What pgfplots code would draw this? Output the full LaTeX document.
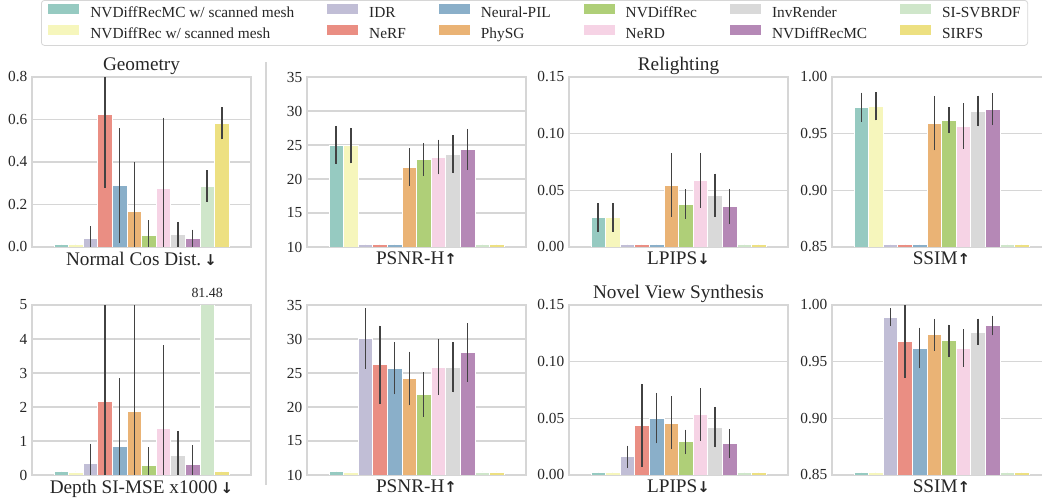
\documentclass[border=0pt]{standalone}
\usepackage{pgfplots}
\pgfplotsset{compat=1.18}
\usepackage{pgfplotstable}
\usepackage{fontspec}
\setmainfont{Liberation Serif}
\newfontfamily\arrowfont{DejaVu Sans}

% seaborn Set3, desaturated to 0.75
\definecolor{c0}{RGB}{150,202,193}
\definecolor{c1}{RGB}{246,246,188}
\definecolor{c2}{RGB}{193,190,214}
\definecolor{c3}{RGB}{234,142,131}
\definecolor{c4}{RGB}{138,175,201}
\definecolor{c5}{RGB}{234,179,117}
\definecolor{c6}{RGB}{175,207,120}
\definecolor{c7}{RGB}{246,211,229}
\definecolor{c8}{RGB}{217,217,217}
\definecolor{c9}{RGB}{181,136,182}
\definecolor{c10}{RGB}{207,230,202}
\definecolor{c11}{RGB}{237,224,129}
\definecolor{gridc}{RGB}{214,214,214}
\definecolor{tickc}{RGB}{38,38,38}
\definecolor{errc}{RGB}{66,66,66}

\newcommand\dn{{\arrowfont\bfseries\fontsize{15}{15}\selectfont ↓}}
\newcommand\up{{\arrowfont\bfseries\fontsize{15}{15}\selectfont ↑}}

% one row per method, columns: normal, depth, relight psnr/lpips/ssim, nvs psnr/lpips/ssim (value + error)
\pgfplotstableread{
x        nc     nce    dm     dme   rp     rpe   rl     rle     rs     rse     np     npe   nl     nle     ns     nse
-0.3667  0.013  0      0.10   0     25.00  2.80  0.026  0.0125  0.9733 0.0130  10.47  0     0.0023 0       0.8526 0
-0.3000  0.012  0      0.09   0     24.90  2.60  0.026  0.0125  0.9742 0.0124  10.45  0     0.0023 0       0.8526 0
-0.2333  0.042  0.055  0.33   0.59  10.44  0     0.0023 0       0.8523 0       30.08  4.43  0.0161 0.0098  0.9892 0.0079
-0.1667  0.623  0.345  2.16   3.20  10.44  0     0.0023 0       0.8523 0       26.23  5.75  0.0437 0.0366  0.9678 0.0320
-0.1000  0.290  0.270  0.85   2.00  10.44  0     0.0023 0       0.8523 0       25.69  3.83  0.0501 0.0223  0.9620 0.0180
-0.0333  0.168  0.232  1.87   3.40  21.77  2.76  0.0545 0.0280  0.9593 0.0240  24.18  3.95  0.0460 0.0234  0.9737 0.0140
 0.0333  0.055  0.070  0.29   0.53  22.84  2.42  0.0380 0.0130  0.9620 0.0115  21.84  3.25  0.0293 0.0108  0.9684 0.0143
 0.1000  0.278  0.331  1.38   2.44  23.23  2.55  0.0586 0.0240  0.9567 0.0200  25.84  4.10  0.0533 0.0233  0.9620 0.0164
 0.1667  0.058  0.060  0.575  0.72  23.67  2.80  0.0457 0.0190  0.9700 0.0135  25.84  3.70  0.0422 0.0179  0.9763 0.0116
 0.2333  0.039  0.043  0.30   0.58  24.36  3.00  0.0357 0.0155  0.9716 0.0140  28.03  4.30  0.0278 0.0126  0.9819 0.0087
 0.3000  0.286  0.075  81.48  0     10.44  0     0.0023 0       0.8523 0       10.45  0     0.0023 0       0.8526 0
 0.3667  0.582  0.075  0.10   0     10.44  0     0.0023 0       0.8523 0       10.45  0     0.0023 0       0.8526 0
}\data

\newcommand\bars[2]{%
  \pgfplotsinvokeforeach{0,...,11}{%
    \addplot[fill=c##1, draw=white, line width=0.7bp, forget plot,
      x filter/.code={\ifnum\coordindex=##1\relax\else\def\pgfmathresult{}\fi},
      error bars/.cd, y dir=both, y explicit, error mark=none,
      error bar style={line width=1.4bp, errc}]
      table[x=x, y=#1, y error=#2] {\data};
  }%
}

\pgfplotsset{
  every axis title shift=0pt,
  panel/.style={
    scale only axis, width=219bp, height=170bp, anchor=south west,
    xmin=-0.5, xmax=0.5, xtick=\empty, enlargelimits=false,
    clip mode=individual,
    ymajorgrids, grid style={line width=1.1bp, gridc},
    axis line style={line width=1.1bp, gridc},
    major tick length=0pt,
    tick label style={font=\fontsize{15.4}{16}\selectfont, text=tickc},
    yticklabel style={inner sep=0pt, xshift=-4.5bp},
    /pgf/number format/assume math mode=true,
    ybar, bar width=0.0667, bar shift=0pt,
    xlabel style={at={(axis description cs:0.5,0)}, anchor=north, yshift=-4.5bp,
      inner sep=0pt, font=\fontsize{19.3}{20}\selectfont, text=tickc},
    title style={at={(axis description cs:0.5,1)}, anchor=south, yshift=2bp,
      inner sep=0pt, font=\fontsize{19.3}{20}\selectfont, text=tickc},
  },
  dec1/.style={yticklabel style={/pgf/number format/.cd, fixed, fixed zerofill, precision=1}},
  dec2/.style={yticklabel style={/pgf/number format/.cd, fixed, fixed zerofill, precision=2}},
  legimg/.style={legend image code/.code={\fill[##1, draw=none, sharp corners] (0bp,-0.5bp) rectangle (31bp,9.5bp);}},
}

\begin{document}
\begin{tikzpicture}

% ---- Geometry
\begin{axis}[panel, dec1, at={(32bp,252bp)}, ymin=0, ymax=0.8, ytick={0,0.2,0.4,0.6,0.8},
  title={Geometry}, xlabel={Normal Cos Dist.\,\dn},
  legend columns=6, legend cell align=left,
  legend style={at={(axis description cs:0.0411,1.4529)}, anchor=north west,
    draw=gridc, line width=0.8bp, rounded corners=3bp, fill=white,
    inner xsep=7bp, inner ysep=4bp, font=\fontsize{15.4}{16}\selectfont, text=tickc,
    nodes={inner sep=0pt, text height=10.5bp, text depth=3bp},
    column sep=11bp, row sep=4.5bp,
    /tikz/every even column/.append style={column sep=33bp}}]
\bars{nc}{nce}
\addlegendimage{legimg, fill=c0}\addlegendentry{NVDiffRecMC w/ scanned mesh}
\addlegendimage{legimg, fill=c2}\addlegendentry{IDR}
\addlegendimage{legimg, fill=c4}\addlegendentry{Neural-PIL}
\addlegendimage{legimg, fill=c6}\addlegendentry{NVDiffRec}
\addlegendimage{legimg, fill=c8}\addlegendentry{InvRender}
\addlegendimage{legimg, fill=c10}\addlegendentry{SI-SVBRDF}
\addlegendimage{legimg, fill=c1}\addlegendentry{NVDiffRec w/ scanned mesh}
\addlegendimage{legimg, fill=c3}\addlegendentry{NeRF}
\addlegendimage{legimg, fill=c5}\addlegendentry{PhySG}
\addlegendimage{legimg, fill=c7}\addlegendentry{NeRD}
\addlegendimage{legimg, fill=c9}\addlegendentry{NVDiffRecMC}
\addlegendimage{legimg, fill=c11}\addlegendentry{SIRFS}
\end{axis}

\begin{axis}[panel, at={(32bp,24bp)}, ymin=0, ymax=5, ytick={0,1,2,3,4,5},
  xlabel={Depth SI-MSE x1000\,\dn}]
\bars{dm}{dme}
\node[anchor=base, inner sep=0pt, font=\fontsize{14}{15}\selectfont, text=tickc]
  at (axis cs:0.3,5) [yshift=7.5bp] {81.48};
\end{axis}

\draw[gridc, line width=1.1bp] (266bp,14bp) -- (266bp,437bp);

% ---- Relighting
\begin{axis}[panel, at={(307bp,252bp)}, ymin=10, ymax=35, ytick={10,15,20,25,30,35},
  xlabel={PSNR-H\up}]
\bars{rp}{rpe}
\end{axis}
\begin{axis}[panel, dec2, at={(569bp,252bp)}, ymin=0, ymax=0.15, ytick={0,0.05,0.1,0.15},
  title={Relighting}, xlabel={LPIPS\dn}]
\bars{rl}{rle}
\end{axis}
\begin{axis}[panel, dec2, at={(832bp,252bp)}, ymin=0.85, ymax=1, ytick={0.85,0.9,0.95,1},
  xlabel={SSIM\up}]
\bars{rs}{rse}
\end{axis}

% ---- Novel view synthesis
\begin{axis}[panel, at={(307bp,24bp)}, ymin=10, ymax=35, ytick={10,15,20,25,30,35},
  xlabel={PSNR-H\up}]
\bars{np}{npe}
\end{axis}
\begin{axis}[panel, dec2, at={(569bp,24bp)}, ymin=0, ymax=0.15, ytick={0,0.05,0.1,0.15},
  title={Novel View Synthesis}, xlabel={LPIPS\dn}]
\bars{nl}{nle}
\end{axis}
\begin{axis}[panel, dec2, at={(832bp,24bp)}, ymin=0.85, ymax=1, ytick={0.85,0.9,0.95,1},
  xlabel={SSIM\up}]
\bars{ns}{nse}
\end{axis}

\pgfresetboundingbox
\useasboundingbox (0bp,0bp) rectangle (1042bp,499bp);
\end{tikzpicture}
\end{document}
